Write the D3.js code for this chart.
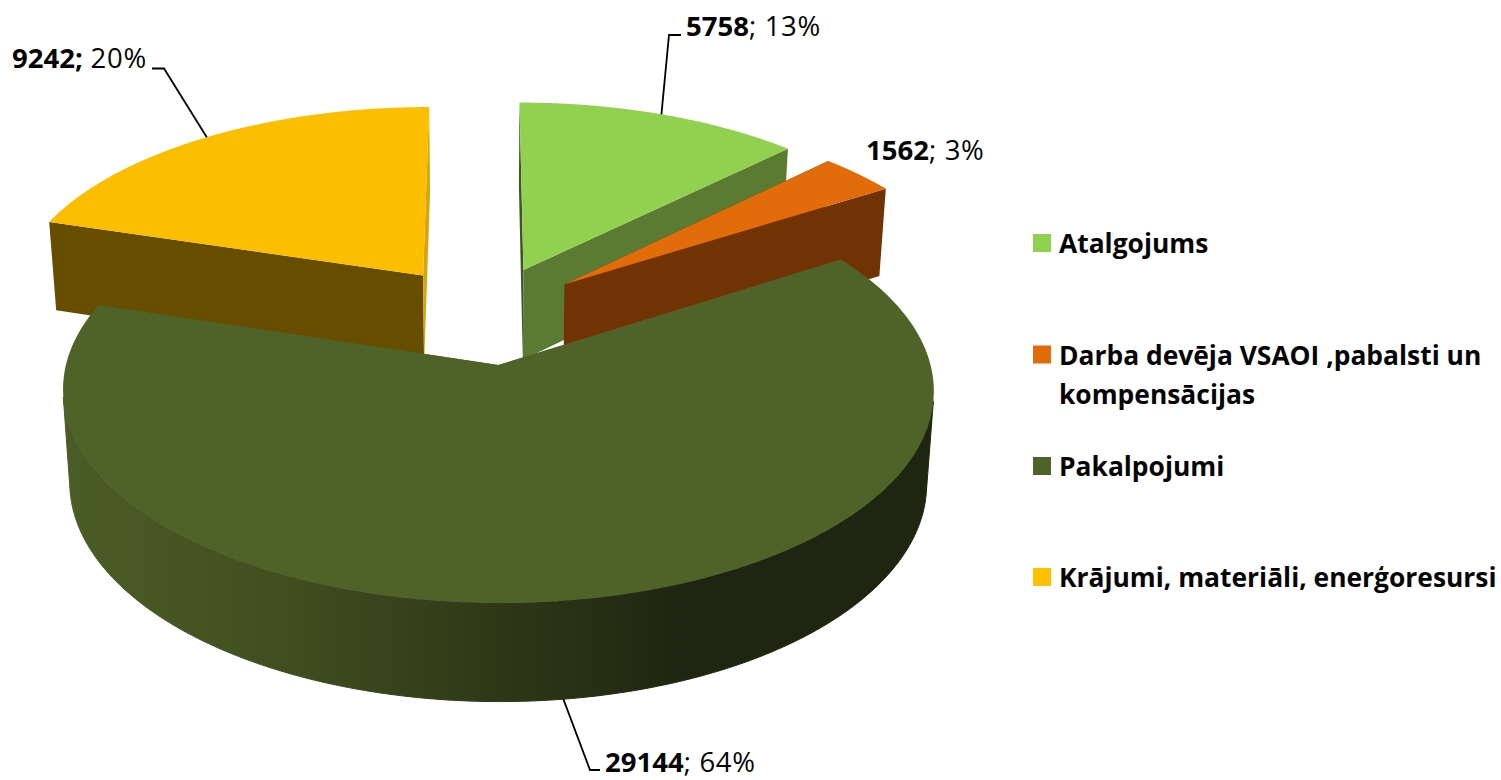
<!DOCTYPE html>
<html><head><meta charset="utf-8">
<script src="https://cdn.jsdelivr.net/npm/d3@7/dist/d3.min.js"></script>
<style>html,body{margin:0;padding:0;background:#fff}svg{display:block}text{font-family:"Open Sans",Lato,sans-serif;fill:#050505}</style>
</head><body><svg id="c" width="1501" height="780"></svg>
<script>
const categories = ["Atalgojums","Darba devēja VSAOI ,pabalsti un|kompensācijas","Pakalpojumi","Krājumi, materiāli, enerģoresursi"];
const values = [5758,1562,29144,9242];
const percentLabels = ["13%","3%","64%","20%"];
const topColors = ["#92D050","#E26B0A","#4F6228","#FBBE00"];
const legendColors = ["#92D050","#E26B0A","#4F6228","#FFC000"];
const startWallColors = ["#3E5722","#713204","#4F6228","#664D00"];
const endWallColors = ["#5A7B31","#713204","#4F6228","#D9A50A"];
const rimScale = [0.99,0.99,1,0.99];
const drawOrder = [0,1,3,2];

const P = {cx:484, cy:314.5, R:420, Rk:198, p:0.115, e:0.25, D:91, p2:0.062, q:0.016};
const svg = d3.select("#c");
const defs = svg.append("defs");
const grad = defs.append("linearGradient").attr("id","wall").attr("gradientUnits","userSpaceOnUse")
  .attr("x1",62).attr("x2",934).attr("y1",0).attr("y2",0);
[[0,"#4B5D26"],[0.25,"#414F20"],[0.5,"#2E3817"],[0.72,"#1E2510"],[1,"#1E2510"]].forEach(s=>grad.append("stop").attr("offset",s[0]).attr("stop-color",s[1]));

function project(u,v,z){
  const s = 1/(1+P.p*v);
  let x = P.cx + P.R*u*s, y = P.cy - P.Rk*v*s;
  if(z){ x = P.cx + (x-P.cx)*(1-P.q); y += P.D/(1+P.p2*v); }
  return [x,y];
}
const arcs = d3.pie().sort(null).value(d=>d)(values);
const mid = a => (a.startAngle+a.endAngle)/2;
const off = a => [P.e*Math.sin(mid(a)), P.e*Math.cos(mid(a))];
const rim = (a,t,z) => {const o=off(a), r=rimScale[a.index];return project(o[0]+r*Math.sin(t),o[1]+r*Math.cos(t),z);};
const apex = (a,z) => {const o=off(a);return project(o[0],o[1],z);};
const angles = a => d3.range(0,241).map(i=>a.startAngle+(a.endAngle-a.startAngle)*i/240);
const line = d3.line();
function frontFacing(a,ts){
  return ts.filter((t,i)=>{
    const n = ts[Math.min(i+1,ts.length-1)], pv = ts[Math.max(i-1,0)];
    const p0=rim(a,pv,0), p1=rim(a,n,0), q0=rim(a,t,0), q1=rim(a,t,1);
    return (p1[0]-p0[0])*(q1[1]-q0[1])-(p1[1]-p0[1])*(q1[0]-q0[0]) < 0;
  });
}
const g = svg.append("g");
drawOrder.forEach(i=>{
  const a = arcs[i], ts = angles(a), fr = frontFacing(a,ts);
  g.append("path").attr("d",line([apex(a,0),rim(a,a.startAngle,0),rim(a,a.startAngle,1),apex(a,1)])+"Z").attr("fill",startWallColors[i]);
  g.append("path").attr("d",line([apex(a,0),rim(a,a.endAngle,0),rim(a,a.endAngle,1),apex(a,1)])+"Z").attr("fill",endWallColors[i]);
  if(fr.length>1){
    const outer = fr.map(t=>rim(a,t,0)).concat(fr.slice().reverse().map(t=>rim(a,t,1)));
    const paint = i===2?"url(#wall)":endWallColors[i];
    g.append("path").attr("d",line(outer)+"Z").attr("fill",paint).attr("stroke",paint).attr("stroke-width",1);
  }
  g.append("path").attr("d",line([apex(a,0)].concat(ts.map(t=>rim(a,t,0))))+"Z").attr("fill",topColors[i]);
});

const FS = 27.5;
const labelSpots = [{x:686,y:36,k:[669,35],tail:[681,35],z:0},{x:866,y:160},{x:605,y:772,k:[590,770],tail:[600,770],z:1},{x:12,y:68,k:[164,68.5],tail:[152,68.5],z:0}];
values.forEach((v,i)=>{
  const s = labelSpots[i];
  const t = svg.append("text").attr("x",s.x).attr("y",s.y).attr("font-size",FS);
  t.append("tspan").attr("font-weight",700).text(i===3? v+";" : v);
  t.append("tspan").attr("letter-spacing",0.7).text((i===3?" ":"; ")+percentLabels[i]);
  if(s.k){
    const a=arcs[i], m=rim(a,mid(a),s.z);
    svg.append("path").attr("d",line([s.tail,s.k,m])).attr("fill","none").attr("stroke","#000").attr("stroke-width",1.8);
  }
});

const legendY = [243,354.5,466,577];
categories.forEach((c,i)=>{
  const y = legendY[i];
  svg.append("rect").attr("x",1033).attr("y",y-9).attr("width",18).attr("height",18).attr("fill",legendColors[i]);
  c.split("|").forEach((ln,j)=>{
    svg.append("text").attr("x",1059).attr("y",y+10+j*39).attr("font-size",26.4).attr("font-weight",700).text(ln);
  });
});
</script></body></html>
